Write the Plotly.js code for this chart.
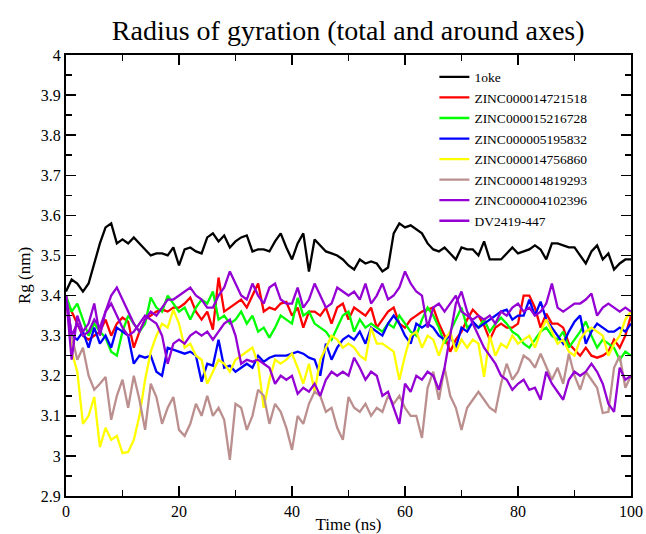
<!DOCTYPE html>
<html>
<head>
<meta charset="utf-8">
<script src="https://cdn.plot.ly/plotly-3.0.1.min.js"></script>
<style>html,body{margin:0;padding:0;background:#fff;}#chart{width:646px;height:534px;}</style>
</head>
<body>
<div id="chart"></div>
<script>
const time = [0,1,2,3,4,5,6,7,8,9,10,11,12,13,14,15,16,17,18,19,20,21,22,23,24,25,26,27,28,29,30,31,32,33,34,35,36,37,38,39,40,41,42,43,44,45,46,47,48,49,50,51,52,53,54,55,56,57,58,59,60,61,62,63,64,65,66,67,68,69,70,71,72,73,74,75,76,77,78,79,80,81,82,83,84,85,86,87,88,89,90,91,92,93,94,95,96,97,98,99,100];

const seriesNames = ["1oke","ZINC000014721518","ZINC000015216728","ZINC000005195832","ZINC000014756860","ZINC000014819293","ZINC000004102396","DV2419-447"];
const seriesColors = ["#000000","#ff0000","#00ff00","#0000ff","#ffff00","#bc8f8f","#9400d3","#9400d3"];

const rg_1oke = [3.41,3.44,3.43,3.41,3.43,3.48,3.53,3.57,3.58,3.53,3.54,3.53,3.545,3.53,3.515,3.50,3.505,3.505,3.50,3.52,3.475,3.515,3.52,3.51,3.505,3.545,3.555,3.535,3.55,3.52,3.535,3.545,3.55,3.51,3.515,3.515,3.51,3.535,3.555,3.52,3.49,3.53,3.555,3.46,3.54,3.525,3.51,3.505,3.50,3.49,3.475,3.465,3.49,3.48,3.485,3.48,3.46,3.47,3.555,3.58,3.57,3.575,3.565,3.555,3.53,3.515,3.51,3.52,3.505,3.49,3.52,3.515,3.515,3.50,3.535,3.49,3.49,3.49,3.505,3.52,3.505,3.51,3.515,3.525,3.515,3.49,3.53,3.53,3.525,3.52,3.52,3.50,3.48,3.51,3.525,3.49,3.505,3.465,3.48,3.49,3.49];

const rg_z14721518 = [3.39,3.36,3.33,3.30,3.29,3.30,3.31,3.34,3.30,3.33,3.345,3.335,3.27,3.31,3.34,3.35,3.36,3.365,3.36,3.37,3.37,3.38,3.395,3.36,3.34,3.36,3.315,3.445,3.36,3.37,3.38,3.39,3.37,3.40,3.43,3.36,3.37,3.365,3.38,3.384,3.35,3.37,3.32,3.36,3.36,3.35,3.37,3.33,3.37,3.38,3.34,3.37,3.36,3.35,3.37,3.32,3.34,3.36,3.37,3.33,3.32,3.34,3.35,3.36,3.365,3.37,3.33,3.30,3.26,3.29,3.31,3.34,3.365,3.35,3.325,3.29,3.32,3.33,3.32,3.32,3.33,3.40,3.40,3.37,3.32,3.355,3.33,3.33,3.32,3.28,3.265,3.25,3.27,3.25,3.245,3.25,3.26,3.29,3.27,3.30,3.35];

const rg_z15216728 = [3.40,3.36,3.38,3.34,3.30,3.33,3.31,3.295,3.26,3.25,3.31,3.35,3.33,3.31,3.33,3.395,3.37,3.36,3.40,3.38,3.36,3.37,3.34,3.37,3.39,3.38,3.41,3.34,3.35,3.33,3.34,3.36,3.33,3.35,3.31,3.32,3.295,3.32,3.35,3.34,3.33,3.394,3.35,3.36,3.33,3.32,3.31,3.29,3.32,3.35,3.36,3.31,3.34,3.32,3.33,3.32,3.31,3.33,3.32,3.35,3.33,3.31,3.30,3.34,3.37,3.35,3.32,3.28,3.31,3.34,3.37,3.32,3.33,3.32,3.34,3.31,3.33,3.345,3.33,3.31,3.30,3.28,3.27,3.29,3.31,3.32,3.30,3.29,3.31,3.27,3.29,3.31,3.335,3.30,3.27,3.29,3.28,3.27,3.24,3.26,3.25];

const rg_z05195832 = [3.40,3.30,3.29,3.31,3.27,3.32,3.28,3.30,3.27,3.32,3.31,3.30,3.23,3.25,3.245,3.25,3.21,3.20,3.27,3.265,3.26,3.255,3.26,3.25,3.185,3.23,3.225,3.29,3.22,3.225,3.21,3.22,3.23,3.22,3.25,3.235,3.245,3.25,3.25,3.25,3.255,3.26,3.255,3.245,3.24,3.20,3.28,3.24,3.27,3.29,3.30,3.29,3.31,3.28,3.32,3.31,3.30,3.33,3.35,3.33,3.30,3.28,3.33,3.32,3.33,3.32,3.30,3.29,3.30,3.27,3.32,3.31,3.335,3.32,3.33,3.34,3.35,3.36,3.365,3.34,3.35,3.35,3.39,3.35,3.385,3.34,3.32,3.30,3.28,3.31,3.335,3.35,3.28,3.31,3.33,3.32,3.31,3.31,3.32,3.31,3.33];

const rg_z14756860 = [3.40,3.26,3.21,3.08,3.10,3.147,3.022,3.07,3.04,3.05,3.007,3.01,3.04,3.10,3.19,3.26,3.30,3.33,3.32,3.365,3.33,3.27,3.28,3.25,3.24,3.18,3.21,3.24,3.23,3.21,3.24,3.25,3.26,3.27,3.23,3.12,3.19,3.24,3.23,3.24,3.255,3.22,3.18,3.23,3.16,3.24,3.27,3.30,3.29,3.27,3.28,3.27,3.25,3.24,3.32,3.28,3.28,3.27,3.26,3.19,3.25,3.30,3.31,3.27,3.30,3.29,3.25,3.29,3.31,3.26,3.29,3.27,3.29,3.28,3.197,3.30,3.25,3.28,3.27,3.30,3.28,3.29,3.30,3.27,3.31,3.34,3.31,3.28,3.29,3.26,3.25,3.29,3.31,3.32,3.31,3.30,3.25,3.28,3.30,3.34,3.36];

const rg_z14819293 = [3.40,3.30,3.24,3.27,3.20,3.165,3.18,3.197,3.09,3.15,3.19,3.12,3.20,3.14,3.065,3.18,3.147,3.08,3.12,3.147,3.065,3.05,3.08,3.13,3.10,3.15,3.10,3.12,3.09,2.99,3.13,3.12,3.065,3.10,3.165,3.15,3.08,3.13,3.11,3.07,3.015,3.10,3.08,3.13,3.16,3.15,3.11,3.12,3.07,3.04,3.147,3.12,3.11,3.13,3.10,3.12,3.11,3.15,3.13,3.15,3.12,3.10,3.10,3.045,3.17,3.21,3.14,3.22,3.15,3.12,3.065,3.12,3.14,3.16,3.14,3.12,3.11,3.18,3.23,3.19,3.21,3.25,3.24,3.22,3.255,3.22,3.19,3.22,3.18,3.255,3.20,3.165,3.21,3.19,3.17,3.107,3.11,3.22,3.25,3.17,3.20];

const rg_z04102396 = [3.40,3.24,3.35,3.31,3.33,3.38,3.30,3.36,3.40,3.42,3.39,3.36,3.33,3.31,3.34,3.36,3.35,3.37,3.39,3.39,3.40,3.41,3.42,3.40,3.39,3.37,3.37,3.40,3.42,3.46,3.43,3.40,3.39,3.43,3.40,3.38,3.42,3.43,3.39,3.38,3.38,3.42,3.37,3.39,3.43,3.40,3.37,3.38,3.42,3.41,3.40,3.41,3.39,3.43,3.38,3.40,3.43,3.39,3.40,3.42,3.46,3.43,3.41,3.40,3.32,3.37,3.38,3.36,3.38,3.40,3.36,3.35,3.34,3.35,3.34,3.35,3.33,3.36,3.35,3.37,3.38,3.36,3.37,3.35,3.36,3.38,3.43,3.37,3.36,3.37,3.38,3.38,3.39,3.405,3.35,3.37,3.38,3.37,3.36,3.37,3.36];

const rg_dv2419 = [3.40,3.30,3.33,3.30,3.31,3.34,3.32,3.36,3.38,3.35,3.32,3.30,3.31,3.33,3.35,3.34,3.33,3.30,3.23,3.28,3.29,3.28,3.30,3.31,3.30,3.31,3.29,3.31,3.33,3.34,3.30,3.23,3.24,3.235,3.24,3.23,3.22,3.18,3.20,3.19,3.20,3.155,3.17,3.16,3.18,3.15,3.19,3.21,3.20,3.21,3.20,3.245,3.22,3.19,3.21,3.20,3.15,3.16,3.12,3.08,3.18,3.16,3.20,3.19,3.21,3.20,3.165,3.22,3.30,3.38,3.41,3.36,3.33,3.30,3.27,3.25,3.23,3.20,3.19,3.165,3.18,3.19,3.165,3.17,3.14,3.21,3.18,3.16,3.14,3.19,3.21,3.20,3.21,3.23,3.21,3.18,3.13,3.11,3.22,3.19,3.20];

const yTickVals = [2.9,3,3.1,3.2,3.3,3.4,3.5,3.6,3.7,3.8,3.9,4];
const yTickText = ["2.9","3","3.1","3.2","3.3","3.4","3.5","3.6","3.7","3.8","3.9","4"];
const xTickVals = [0,20,40,60,80,100];
const xTickText = ["0","20","40","60","80","100"];

const allSeries = [rg_1oke, rg_z14721518, rg_z15216728, rg_z05195832, rg_z14756860, rg_z14819293, rg_z04102396, rg_dv2419];

const traces = allSeries.map((ys, i) => ({
  type: 'scatter',
  mode: 'lines',
  x: time,
  y: ys,
  name: seriesNames[i],
  line: {color: seriesColors[i], width: 2.3}
}));

const serif = 'Liberation Serif, Times New Roman, serif';

const layout = {
  width: 646, height: 534,
  margin: {l: 66, r: 15, t: 55, b: 38},
  paper_bgcolor: '#fff', plot_bgcolor: '#fff',
  showlegend: true,
  title: {text: 'Radius of gyration (total and around axes)', font: {family: serif, size: 28, color: '#000'}, x: 0.539, xanchor: 'center', y: 0.944, yanchor: 'middle'},
  font: {family: serif, color: '#000'},
  xaxis: {
    range: [0, 100], tickvals: xTickVals, ticktext: xTickText,
    ticks: 'inside', ticklen: 10, tickwidth: 1.5, tickcolor: '#000',
    showline: true, linecolor: '#000', linewidth: 2, mirror: 'allticks',
    showgrid: false, zeroline: false,
    tickfont: {family: serif, size: 16, color: '#000'},
    minor: {tickvals: [10,30,50,70,90], ticks: 'inside', ticklen: 6, tickcolor: '#000', tickwidth: 1.5, showgrid: false},
    title: {text: 'Time (ns)', font: {family: serif, size: 17, color: '#000'}, standoff: 1}
  },
  yaxis: {
    range: [2.9, 4], tickvals: yTickVals, ticktext: yTickText,
    ticks: 'inside', ticklen: 10, tickwidth: 1.5, tickcolor: '#000',
    showline: true, linecolor: '#000', linewidth: 2, mirror: 'allticks',
    showgrid: false, zeroline: false,
    tickfont: {family: serif, size: 16, color: '#000'},
    minor: {tickvals: [2.95,3.05,3.15,3.25,3.35,3.45,3.55,3.65,3.75,3.85,3.95], ticks: 'inside', ticklen: 6, tickcolor: '#000', tickwidth: 1.5, showgrid: false},
    title: {text: 'Rg (nm)', font: {family: serif, size: 17, color: '#000'}, standoff: 6}
  },
  legend: {
    x: 0.652, y: 0.985, xanchor: 'left', yanchor: 'top',
    bgcolor: 'rgba(255,255,255,0)', borderwidth: 0,
    font: {family: serif, size: 13.5, color: '#000'},
    tracegroupgap: 0
  }
};

Plotly.newPlot('chart', traces, layout, {displayModeBar: false, staticPlot: true});
</script>
</body>
</html>
